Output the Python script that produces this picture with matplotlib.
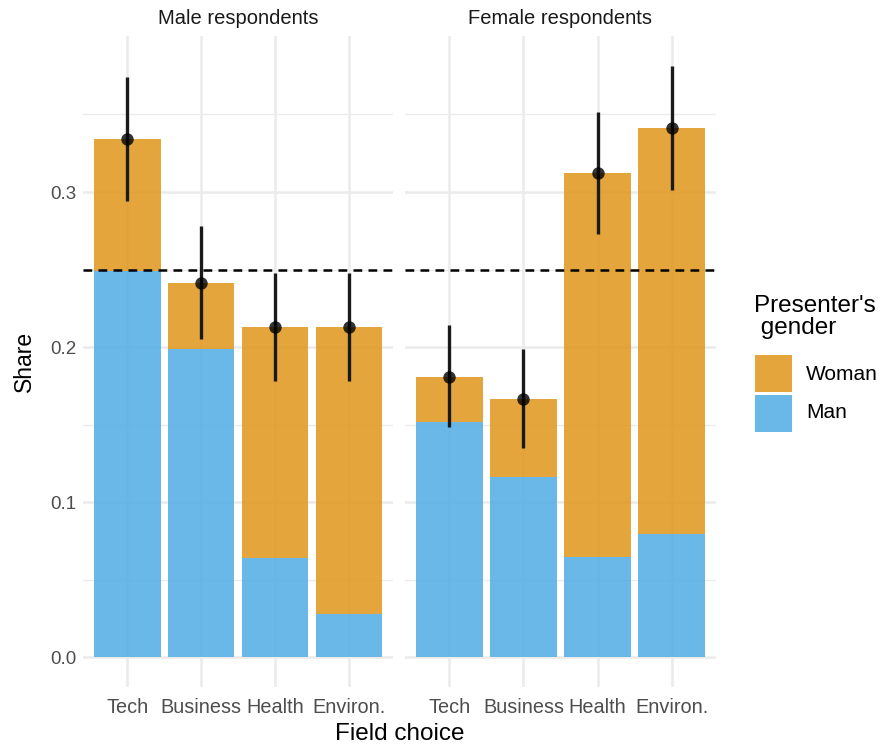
import matplotlib
matplotlib.use("Agg")
import matplotlib.pyplot as plt
from matplotlib.patches import Rectangle
import numpy as np

plt.rcParams['font.family'] = ['Liberation Sans', 'DejaVu Sans']

categories = ["Tech", "Business", "Health", "Environ."]
panels = ["Male respondents", "Female respondents"]

# total share (woman + man) and man share, per panel
male_total = [0.334, 0.2415, 0.213, 0.213]
male_man = [0.249, 0.199, 0.064, 0.028]
male_lo = [0.294, 0.205, 0.178, 0.178]
male_hi = [0.374, 0.278, 0.2475, 0.2475]

female_total = [0.181, 0.1665, 0.312, 0.341]
female_man = [0.152, 0.116, 0.065, 0.0795]
female_lo = [0.1486, 0.135, 0.2727, 0.301]
female_hi = [0.214, 0.1985, 0.3516, 0.3815]

reference_share = 0.25

ORANGE = "#E0961A"
BLUE = "#50ACE4"
ALPHA = 0.85
GRID = "#EBEBEB"

W, H = 883, 747
fig = plt.figure(figsize=(W / 100, H / 100), dpi=100)

ylim = (-0.0191, 0.4006)
panel_rects = [
    (83 / W, 1 - 687 / H, 310 / W, 651 / H),
    (405 / W, 1 - 687 / H, 311 / W, 651 / H),
]
data = [
    (male_total, male_man, male_lo, male_hi),
    (female_total, female_man, female_lo, female_hi),
]

x = np.arange(1, len(categories) + 1)
for i, (rect, (tot, man, lo, hi)) in enumerate(zip(panel_rects, data)):
    ax = fig.add_axes(rect)
    ax.set_xlim(0.4, 4.6)
    ax.set_ylim(*ylim)
    for s in ax.spines.values():
        s.set_visible(False)
    # grid
    for yv in [0.05, 0.15, 0.25, 0.35]:
        ax.axhline(yv, color=GRID, lw=1.0, zorder=0)
    for yv in [0.0, 0.1, 0.2, 0.3]:
        ax.axhline(yv, color=GRID, lw=1.8, zorder=0)
    for xv in x:
        ax.axvline(xv, color=GRID, lw=1.8, zorder=0)
    tot = np.array(tot)
    man = np.array(man)
    woman = tot - man
    ax.bar(x, man, width=0.9, color=BLUE, alpha=ALPHA, zorder=1, linewidth=0)
    ax.bar(x, woman, bottom=man, width=0.9, color=ORANGE, alpha=ALPHA, zorder=1, linewidth=0)
    ax.axhline(reference_share, color="black", lw=1.8, ls=(0, (3.5, 2.5)), zorder=2)
    ax.vlines(x, lo, hi, color="#1A1A1A", lw=2.4, zorder=3)
    ax.scatter(x, tot, s=80, color="black", alpha=0.8, zorder=4, linewidths=0)
    ax.set_xticks(x)
    ax.set_xticklabels(categories, fontsize=14.3, color="#4D4D4D")
    ax.tick_params(axis="x", length=0, pad=8)
    ax.set_yticks([0.0, 0.1, 0.2, 0.3])
    if i == 0:
        ax.set_yticklabels(["0.0", "0.1", "0.2", "0.3"], fontsize=13.5, color="#4D4D4D")
        ax.tick_params(axis="y", length=0, pad=5)
        ax.set_ylabel("Share", fontsize=16.5, color="black", labelpad=10)
    else:
        ax.tick_params(axis="y", length=0, labelleft=False)
    fig.text(rect[0] + rect[2] / 2, 1 - 18 / H, panels[i], ha="center", va="center",
             fontsize=14.5, color="#1A1A1A")

fig.text((83 + 716) / 2 / W, 1 - 734 / H, "Field choice", ha="center", va="center", fontsize=17.5)

# legend
fig.text(754 / W, 1 - 317 / H, "Presenter's\n gender", ha="left", va="center", fontsize=17.5, linespacing=1.05)
fig.patches.append(Rectangle((755 / W, 1 - 392 / H), 37 / W, 37 / H, transform=fig.transFigure,
                             facecolor=ORANGE, alpha=ALPHA, edgecolor="none"))
fig.patches.append(Rectangle((755 / W, 1 - 432 / H), 37 / W, 37 / H, transform=fig.transFigure,
                             facecolor=BLUE, alpha=ALPHA, edgecolor="none"))
fig.text(806 / W, 1 - 375 / H, "Woman", ha="left", va="center", fontsize=15)
fig.text(806 / W, 1 - 413 / H, "Man", ha="left", va="center", fontsize=15)

fig.savefig("out.png", dpi=100, facecolor="white")
